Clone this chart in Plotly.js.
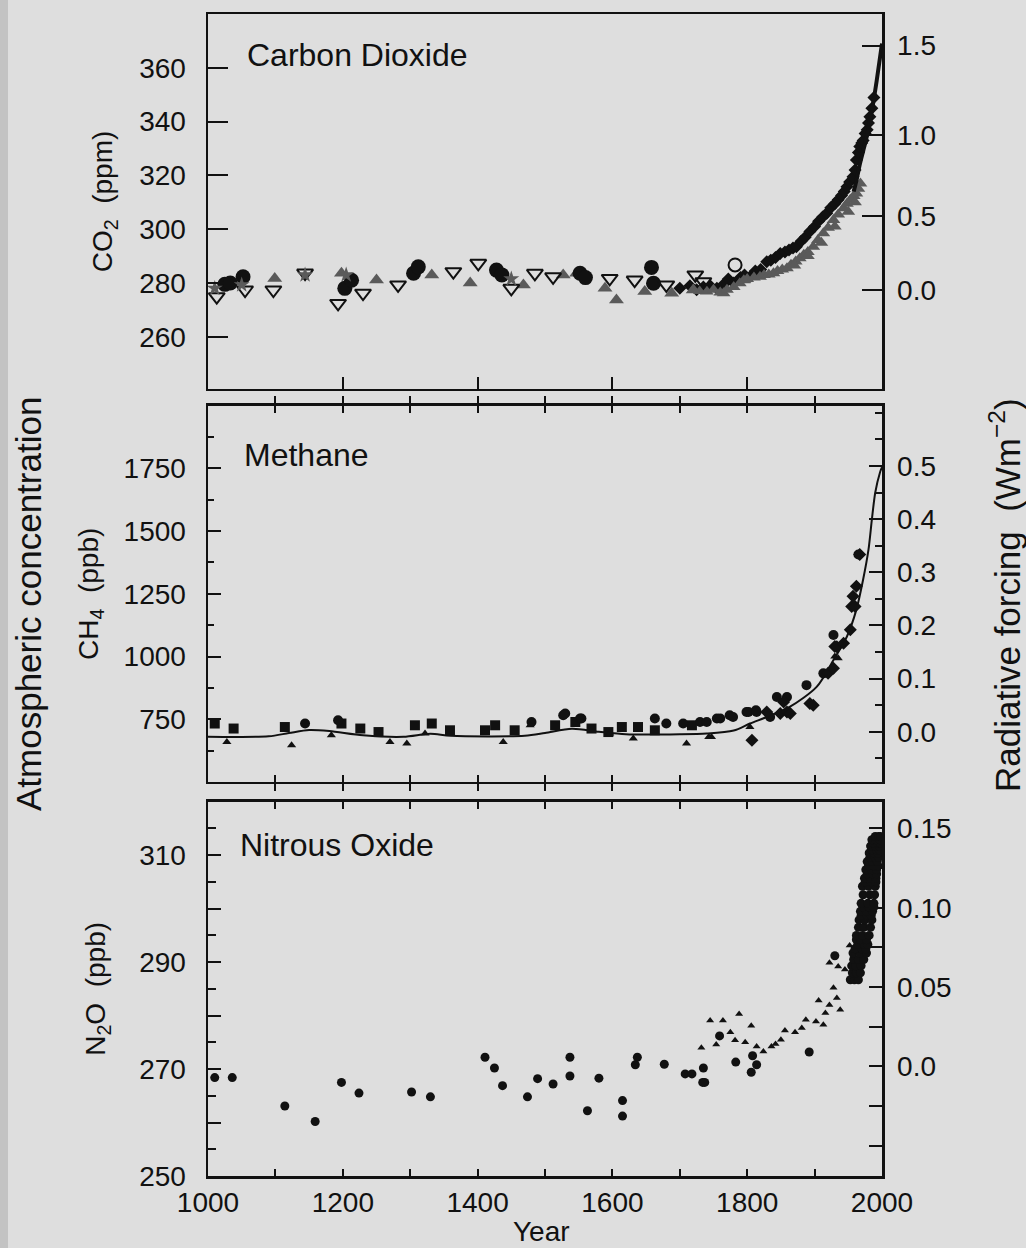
<!DOCTYPE html>
<html>
<head>
<meta charset="utf-8">
<script src="https://cdn.plot.ly/plotly-3.0.1.min.js"></script>
<style>
  html, body { margin: 0; padding: 0; }
  body {
    width: 1026px; height: 1248px; overflow: hidden;
    background: linear-gradient(to right, #c3c3c3 0px, #c3c3c3 8px, #dedede 8px);
  }
  #chart { width: 1026px; height: 1248px; }
</style>
</head>
<body>
<div id="chart"></div>
<script>
// ---------------- Carbon dioxide (ppm) ----------------
const co2CircleYear = [1025, 1033, 1052, 1203, 1213, 1305, 1312, 1428, 1436, 1552, 1560, 1658, 1661];
const co2CircleVal  = [279.5, 280, 282.3, 278, 281, 283.6, 286, 284.8, 283, 283.6, 282, 285.8, 279.9];

const co2DownTriYear = [1013, 1055, 1097, 1144, 1193, 1230, 1282, 1364, 1401, 1450, 1485, 1512, 1596, 1633, 1680, 1723, 1735];
const co2DownTriVal  = [274.9, 277.4, 277.4, 283.7, 272.4, 276.2, 279.3, 284.2, 287.3, 278, 283.6, 282.3, 281.7, 281.1, 279.3, 283, 280.5];

const co2UpTriYear = [1099, 1198, 1250, 1332, 1389, 1468, 1527, 1547, 1589, 1606, 1648, 1688, 1720];
const co2UpTriVal  = [281.7, 283.6, 281.1, 283, 280, 279.3, 283, 283.6, 278, 273.7, 276.8, 276.2, 277.4];

const co2StarYear = [1010, 1050, 1144, 1205, 1450];
const co2StarVal  = [278, 279.3, 283, 283, 281.5];

const co2OpenCircleYear = [1782];
const co2OpenCircleVal  = [286.7];

const co2FirnYear = [1700, 1715, 1725, 1735, 1745, 1755, 1765, 1772, 1780, 1790, 1796, 1805, 1812, 1820, 1829, 1835,
                     1842, 1849, 1856, 1862, 1868, 1873, 1880, 1886, 1893, 1900, 1906, 1912, 1918, 1924, 1930, 1935,
                     1940, 1944, 1948, 1952, 1957, 1960, 1962, 1965, 1967, 1970, 1972, 1975, 1978, 1980, 1982, 1985, 1988];
const co2FirnVal  = [278, 279, 277.5, 278.5, 279, 278, 279.5, 281.5, 280, 282, 283, 282.5, 284.5, 285, 287.9, 288.5,
                     289.5, 291, 291.5, 292.3, 293, 293.5, 295.5, 297, 299.1, 301, 303, 304.5, 305.9, 308, 309.5, 310.9,
                     312.5, 314, 315.8, 317.5, 319.5, 322, 325.7, 328.5, 330.7, 332, 333, 335.6, 337, 339.5, 341.8, 345, 349];

const co2IceYear = [1720, 1730, 1740, 1750, 1760, 1765, 1770, 1780, 1789, 1795, 1800, 1810, 1819, 1825, 1832, 1839,
                    1845, 1852, 1859, 1865, 1872, 1878, 1884, 1890, 1898, 1905, 1913, 1920, 1928, 1935, 1943, 1948,
                    1953, 1958, 1962, 1965, 1968, 1870, 1890, 1910, 1930, 1950, 1960];
const co2IceVal  = [277.4, 277, 276.8, 277.5, 276.5, 276.2, 277.5, 278.5, 279.9, 281, 281.5, 282, 282.3, 283, 283.2, 283.6,
                    284.5, 285, 285.5, 286.8, 288, 289.2, 290.5, 291.5, 293.5, 296, 298.5, 300.5, 303.4, 305.5, 307.8, 309.5,
                    310.9, 312.3, 313.3, 315, 317, 286.5, 290, 295, 301, 306.5, 310];

const co2AirYear = [1958, 1962, 1967, 1972, 1977, 1982, 1987, 1992, 1996, 2000];
const co2AirVal  = [314, 318, 324, 329, 334, 340, 347, 355, 362, 369];

const co2ForcingTicks = [0.0, 0.5, 1.0, 1.5];
const co2ForcingLabels = ['0.0', '0.5', '1.0', '1.5'];

// ---------------- Methane (ppb) ----------------
const ch4SquareYear = [1010, 1038, 1114, 1198, 1226, 1253, 1307, 1332, 1359, 1411, 1426, 1455, 1515, 1545, 1569, 1594, 1614, 1638, 1663, 1718];
const ch4SquareVal  = [733, 713, 719, 733, 713, 699, 726, 733, 706, 706, 726, 706, 726, 739, 713, 699, 719, 719, 706, 726];

const ch4CircleYear = [1144, 1193, 1480, 1527, 1530, 1552, 1554, 1663, 1680, 1705, 1730, 1740, 1755, 1760, 1774, 1779,
                       1799, 1802, 1813, 1814, 1834, 1844, 1859, 1888, 1913, 1928, 1965];
const ch4CircleVal  = [733, 746, 739, 766, 773, 753, 753, 753, 733, 733, 739, 739, 753, 753, 766, 759,
                       779, 779, 786, 779, 759, 839, 839, 886, 933, 1086, 1407];

const ch4TriangleYear = [1028, 1124, 1183, 1270, 1295, 1322, 1438, 1478, 1596, 1631, 1710, 1743, 1747, 1804, 1930, 1935];
const ch4TriangleVal  = [659, 646, 686, 659, 653, 693, 659, 726, 693, 673, 653, 679, 679, 719, 1000, 993];

const ch4DiamondYear = [1807, 1829, 1849, 1854, 1859, 1864, 1893, 1898, 1920, 1928, 1930, 1933, 1943, 1953, 1955, 1957, 1960, 1962, 1967];
const ch4DiamondVal  = [666, 779, 773, 819, 779, 773, 813, 806, 933, 953, 1040, 1039, 1053, 1107, 1200, 1240, 1200, 1280, 1407];

const ch4FitYear = [1000, 1090, 1120, 1150, 1180, 1230, 1290, 1330, 1360, 1470, 1500, 1540, 1580, 1620, 1700, 1740,
                    1780, 1804, 1830, 1863, 1903, 1928, 1948, 1962, 1972, 1980, 1985, 1990, 1997, 2000];
const ch4FitVal  = [680, 682, 695, 707, 703, 686, 680, 692, 684, 684, 695, 712, 700, 690, 690, 693,
                    705, 733, 760, 799, 879, 986, 1080, 1187, 1307, 1427, 1547, 1654, 1734, 1755];

const ch4ForcingTicks = [0.0, 0.1, 0.2, 0.3, 0.4, 0.5];
const ch4ForcingLabels = ['0.0', '0.1', '0.2', '0.3', '0.4', '0.5'];

// ---------------- Nitrous oxide (ppb) ----------------
const n2oCircleYear = [1010, 1036, 1114, 1159, 1198, 1224, 1302, 1330, 1411, 1425, 1437, 1474, 1489, 1512, 1537, 1537,
                       1563, 1580, 1615, 1615, 1634, 1637, 1677, 1708, 1718, 1734, 1735, 1737, 1759, 1783, 1806, 1808,
                       1814, 1892, 1930];
const n2oCircleVal  = [268.4, 268.4, 263.1, 260.2, 267.5, 265.5, 265.7, 264.8, 272.2, 270.2, 266.9, 264.8, 268.2, 267.2, 272.2, 268.7,
                       262.2, 268.3, 264.1, 261.2, 270.8, 272.2, 270.9, 269.1, 269.1, 267.5, 270.2, 267.5, 276.2, 271.3, 269.4, 272.5,
                       270.8, 273.2, 291.2];

const n2oTriangleYear = [1732, 1745, 1754, 1764, 1775, 1782, 1788, 1797, 1806, 1814, 1824, 1836, 1842, 1850, 1856, 1871,
                         1881, 1887, 1902, 1906, 1913, 1916, 1922, 1922, 1928, 1933, 1935, 1938, 1945, 1952];
const n2oTriangleVal  = [274, 279.1, 274.6, 279.1, 276.9, 275.4, 280.3, 275, 278.1, 274.2, 273.3, 274.2, 274.7, 275.5, 277.2, 276.9,
                         277.7, 279.2, 278.9, 282.8, 278.3, 280.5, 282, 289.9, 285.2, 283.3, 289.2, 281.1, 288.6, 293.1];

const n2oRecentYear = [1953, 1959, 1965, 1956, 1962, 1968, 1955, 1961, 1969, 1958, 1965, 1973, 1957, 1967, 1977,
                       1960, 1970, 1976, 1964, 1974, 1979, 1962, 1968, 1977, 1962, 1971, 1981, 1965, 1973, 1983,
                       1966, 1975, 1985, 1969, 1978, 1984, 1968, 1977, 1986, 1972, 1981, 1988, 1969, 1979, 1988,
                       1972, 1982, 1989, 1971, 1980, 1990, 1975, 1984, 1991, 1974, 1983, 1991, 1978, 1986, 1992,
                       1976, 1985, 1992, 1980, 1988, 1994, 1978, 1986, 1993, 1982, 1990, 1995, 1981, 1988, 1994,
                       1985, 1992, 1996, 1983, 1990, 1996, 1987, 1993, 1997, 1985, 1991, 1997, 1990, 1995, 1998];
const n2oRecentVal  = [286.7, 286.7, 286.7, 288.0, 288.0, 288.0, 289.3, 289.3, 289.3, 290.5, 290.5, 290.5, 291.7, 291.7, 291.7,
                       292.5, 292.5, 292.5, 293.3, 293.3, 293.3, 294.2, 294.2, 294.2, 295.0, 295.0, 295.0, 296.5, 296.5, 296.5,
                       297.9, 297.9, 297.9, 298.7, 298.7, 298.7, 299.5, 299.5, 299.5, 300.3, 300.3, 300.3, 301.0, 301.0, 301.0,
                       302.6, 302.6, 302.6, 304.2, 304.2, 304.2, 305.0, 305.0, 305.0, 305.7, 305.7, 305.7, 306.5, 306.5, 306.5,
                       307.3, 307.3, 307.3, 308.0, 308.0, 308.0, 308.8, 308.8, 308.8, 309.6, 309.6, 309.6, 310.4, 310.4, 310.4,
                       311.0, 311.0, 311.0, 311.7, 311.7, 311.7, 312.3, 312.3, 312.3, 312.9, 312.9, 312.9, 313.5, 313.5, 313.5];

const n2oForcingTicks = [0.0, 0.05, 0.10, 0.15];
const n2oForcingLabels = ['0.0', '0.05', '0.10', '0.15'];

// ---------------- shared axis labels ----------------
const yearTicks = [1000, 1200, 1400, 1600, 1800, 2000];
const yearCenturyTicks = [1000, 1100, 1200, 1300, 1400, 1500, 1600, 1700, 1800, 1900, 2000];
const co2Ticks = [260, 280, 300, 320, 340, 360];
const ch4Ticks = [750, 1000, 1250, 1500, 1750];
const n2oTicks = [250, 270, 290, 310];
const n2oUnlabelledTicks = [260, 280, 300, 320];

// forcing scales (W m-2) mapped against concentration
const co2FromForcing = f => 277.5 * Math.exp(f / 5.3);
const ch4ToForcing = c => (c - 700) / 2120;
const n2oToForcing = c => (c - 270.5) * 0.15 / 44.5;

const INK = '#111111';
const GREY = '#5a5a5a';
const FONT = 'Liberation Sans, Arial, Helvetica, sans-serif';

const co2Range = [240.6, 380];
const ch4Range = [500, 2000];
const n2oRange = [250, 320];

function pts(x, y, xa, ya, marker) {
  return { x: x, y: y, xaxis: xa, yaxis: ya, type: 'scatter', mode: 'markers',
           marker: marker, hoverinfo: 'skip', showlegend: false };
}
function curve(x, y, xa, ya, width) {
  return { x: x, y: y, xaxis: xa, yaxis: ya, type: 'scatter', mode: 'lines',
           line: { color: INK, width: width, shape: 'spline', smoothing: 0.8 }, hoverinfo: 'skip', showlegend: false };
}
function scaleHolder(xa, ya) {
  return { x: [], y: [], xaxis: xa, yaxis: ya, type: 'scatter', mode: 'markers', hoverinfo: 'skip', showlegend: false };
}

const traces = [
  // CO2
  pts(co2FirnYear, co2FirnVal, 'x', 'y', { symbol: 'diamond', size: 10, color: INK }),
  pts(co2IceYear, co2IceVal, 'x', 'y', { symbol: 'triangle-up', size: 12, color: GREY }),
  pts(co2UpTriYear, co2UpTriVal, 'x', 'y', { symbol: 'triangle-up', size: 13, color: GREY }),
  pts(co2CircleYear, co2CircleVal, 'x', 'y', { symbol: 'circle', size: 15, color: INK }),
  pts(co2DownTriYear, co2DownTriVal, 'x', 'y', { symbol: 'triangle-down-open', size: 14, color: INK, line: { width: 2, color: INK } }),
  pts(co2StarYear, co2StarVal, 'x', 'y', { symbol: 'star', size: 12, color: GREY }),
  pts(co2OpenCircleYear, co2OpenCircleVal, 'x', 'y', { symbol: 'circle-open', size: 13, color: INK, line: { width: 2, color: INK } }),
  curve(co2AirYear, co2AirVal, 'x', 'y', 4),
  scaleHolder('x', 'y2'),

  // CH4
  curve(ch4FitYear, ch4FitVal, 'x2', 'y3', 2),
  pts(ch4SquareYear, ch4SquareVal, 'x2', 'y3', { symbol: 'square', size: 10, color: INK }),
  pts(ch4CircleYear, ch4CircleVal, 'x2', 'y3', { symbol: 'circle', size: 10, color: INK }),
  pts(ch4TriangleYear, ch4TriangleVal, 'x2', 'y3', { symbol: 'triangle-up', size: 8, color: INK }),
  pts(ch4DiamondYear, ch4DiamondVal, 'x2', 'y3', { symbol: 'diamond', size: 10, color: INK }),
  scaleHolder('x2', 'y4'),

  // N2O
  pts(n2oCircleYear, n2oCircleVal, 'x3', 'y5', { symbol: 'circle', size: 9, color: INK }),
  pts(n2oTriangleYear, n2oTriangleVal, 'x3', 'y5', { symbol: 'triangle-up', size: 7, color: INK }),
  pts(n2oRecentYear, n2oRecentVal, 'x3', 'y5', { symbol: 'circle', size: 9, color: INK }),
  scaleHolder('x3', 'y6'),
  scaleHolder('x3', 'y7')
];

const tickFont = { family: FONT, size: 28, color: INK };
const frame = { showline: true, linecolor: INK, linewidth: 2.5, showgrid: false, zeroline: false,
                ticks: 'inside', tickcolor: INK, tickwidth: 2, tickfont: tickFont };

const dom1 = [0.6773, 1.0];
const dom2 = [0.3391, 0.6629];
const dom3 = [0.0, 0.3221];

const layout = {
  width: 1026, height: 1248,
  margin: { l: 208, r: 144, t: 14, b: 72, pad: 0 },
  paper_bgcolor: 'rgba(0,0,0,0)',
  plot_bgcolor: 'rgba(0,0,0,0)',
  font: { family: FONT, color: INK },
  showlegend: false,

  // Carbon dioxide panel
  xaxis: Object.assign({}, frame, { anchor: 'y', domain: [0, 1], range: [1000, 2000], tickmode: 'array',
    tickvals: [1200, 1400, 1600, 1800], showticklabels: false, ticklen: 12, mirror: true }),
  yaxis: Object.assign({}, frame, { anchor: 'x', domain: dom1, range: co2Range, tickmode: 'array',
    tickvals: co2Ticks, ticklen: 20, ticklabelstandoff: 14,
    title: { text: 'CO<sub>2</sub>\u00a0\u00a0(ppm)', font: { family: FONT, size: 28, color: INK }, standoff: 19 } }),
  yaxis2: Object.assign({}, frame, { anchor: 'x', overlaying: 'y', side: 'right', range: co2Range, tickmode: 'array',
    tickvals: co2ForcingTicks.map(co2FromForcing), ticktext: co2ForcingLabels, ticklen: 20, ticklabelstandoff: 7 }),

  // Methane panel
  xaxis2: Object.assign({}, frame, { anchor: 'y3', domain: [0, 1], range: [1000, 2000], tickmode: 'array',
    tickvals: yearCenturyTicks, showticklabels: false, ticklen: 7, mirror: 'allticks' }),
  yaxis3: Object.assign({}, frame, { anchor: 'x2', domain: dom2, range: ch4Range, tickmode: 'array',
    tickvals: ch4Ticks, ticklen: 13, ticklabelstandoff: 14,
    minor: { ticks: 'inside', dtick: 125, tick0: 0, ticklen: 6, tickwidth: 2, tickcolor: INK },
    title: { text: 'CH<sub>4</sub>\u00a0\u00a0(ppb)', font: { family: FONT, size: 28, color: INK }, standoff: 17 } }),
  yaxis4: Object.assign({}, frame, { anchor: 'x2', overlaying: 'y3', side: 'right',
    range: ch4Range.map(ch4ToForcing), tickmode: 'array', tickvals: ch4ForcingTicks, ticktext: ch4ForcingLabels,
    ticklen: 13, ticklabelstandoff: 7,
    minor: { ticks: 'inside', dtick: 0.05, tick0: 0, ticklen: 7, tickwidth: 2, tickcolor: INK } }),

  // Nitrous oxide panel
  xaxis3: Object.assign({}, frame, { anchor: 'y5', domain: [0, 1], range: [1000, 2000], tickmode: 'array',
    tickvals: yearTicks, ticklen: 7, mirror: 'allticks', ticklabelstandoff: 0,
    minor: { ticks: 'inside', dtick: 100, tick0: 0, ticklen: 7, tickwidth: 2, tickcolor: INK } }),
  yaxis5: Object.assign({}, frame, { anchor: 'x3', domain: dom3, range: n2oRange, tickmode: 'array',
    tickvals: n2oTicks, ticklen: 13, ticklabelstandoff: 14,
    minor: { ticks: 'inside', dtick: 5, tick0: 0, ticklen: 8, tickwidth: 2, tickcolor: INK },
    title: { text: 'N<sub>2</sub>O\u00a0\u00a0(ppb)', font: { family: FONT, size: 28, color: INK }, standoff: 26 } }),
  yaxis6: Object.assign({}, frame, { anchor: 'x3', overlaying: 'y5', side: 'right',
    range: n2oRange.map(n2oToForcing), tickmode: 'array', tickvals: n2oForcingTicks, ticktext: n2oForcingLabels,
    ticklen: 13, ticklabelstandoff: 7,
    minor: { ticks: 'inside', dtick: 0.025, tick0: 0, ticklen: 13, tickwidth: 2, tickcolor: INK } }),
  yaxis7: { anchor: 'x3', overlaying: 'y5', side: 'left', range: n2oRange, tickmode: 'array',
    tickvals: n2oUnlabelledTicks, showticklabels: false, showline: false, showgrid: false, zeroline: false,
    ticks: 'inside', ticklen: 13, tickwidth: 2, tickcolor: INK },

  annotations: [
    { text: 'Carbon Dioxide', xref: 'paper', yref: 'paper', x: 0.0549, y: 0.9647, xanchor: 'left', yanchor: 'middle',
      showarrow: false, font: { family: FONT, size: 32, color: INK } },
    { text: 'Methane', xref: 'paper', yref: 'paper', x: 0.0504, y: 0.6205, xanchor: 'left', yanchor: 'middle',
      showarrow: false, font: { family: FONT, size: 32, color: INK } },
    { text: 'Nitrous Oxide', xref: 'paper', yref: 'paper', x: 0.0445, y: 0.2849, xanchor: 'left', yanchor: 'middle',
      showarrow: false, font: { family: FONT, size: 32, color: INK } },
    { text: 'Year', xref: 'paper', yref: 'paper', x: 0.4951, y: -0.0478, xanchor: 'center', yanchor: 'middle',
      showarrow: false, borderpad: 0, font: { family: FONT, size: 28, color: INK } },
    { text: 'Atmospheric concentration', xref: 'paper', yref: 'paper', x: -0.2655, y: 0.4923, textangle: -90,
      xanchor: 'center', yanchor: 'middle', showarrow: false, font: { family: FONT, size: 35, color: INK } },
    { text: 'Radiative forcing\u00a0\u00a0(Wm<sup>\u22122</sup>)', xref: 'paper', yref: 'paper', x: 1.1825, y: 0.5,
      textangle: -90, xanchor: 'center', yanchor: 'middle', showarrow: false, font: { family: FONT, size: 35, color: INK } }
  ]
};

Plotly.newPlot('chart', traces, layout, { staticPlot: true, displayModeBar: false });
</script>
</body>
</html>
